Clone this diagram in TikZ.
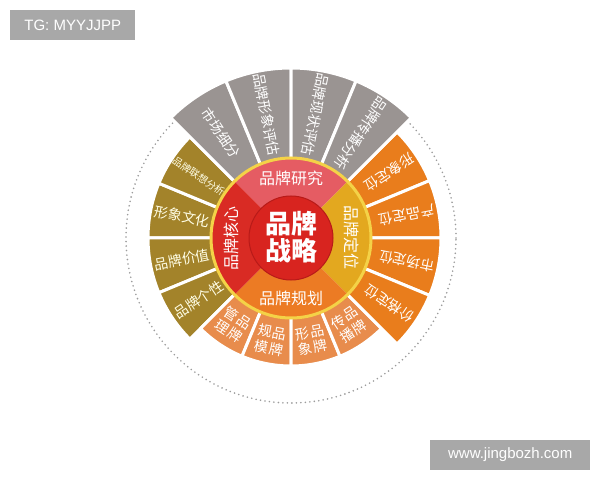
\documentclass[tikz,border=0pt]{standalone}
\usepackage{fontspec}
\setmainfont{Liberation Sans}
\newfontfamily\cjk{Noto Sans CJK SC}
\usetikzlibrary{positioning}
\definecolor{segGray}{HTML}{9A9492}
\definecolor{segOlive}{HTML}{A3832A}
\definecolor{segOrange}{HTML}{E97D1C}
\definecolor{segLight}{HTML}{E88C4C}
\definecolor{ringTop}{HTML}{E55C63}
\definecolor{ringRight}{HTML}{E3A81F}
\definecolor{ringBottom}{HTML}{EC7B24}
\definecolor{ringLeft}{HTML}{D92B24}
\definecolor{ringLine}{HTML}{F4D247}
\definecolor{coreRed}{HTML}{D8241F}
\definecolor{coreDark}{HTML}{B81A18}
\definecolor{wmGray}{HTML}{A8A8A8}
\definecolor{dotGray}{HTML}{9C9C9C}
\tikzset{
  seg/.style={draw=white,line width=3pt,line join=round},
  segtxt/.style={text=white,font=\cjk\fontsize{14}{15}\selectfont,inner sep=0pt},
  ringtxt/.style={text=white,font=\cjk\fontsize{16}{17}\selectfont,inner sep=0pt},
  wm/.style={fill=wmGray,text=white,font=\fontsize{15}{15}\selectfont,inner sep=0pt,minimum height=30pt}
}

\begin{document}
\begin{tikzpicture}[x=1pt,y=1pt]
	\useasboundingbox (0,0) rectangle (600,480);
	\coordinate (c) at (291,242);
	% dotted outer circle
	\draw[dotGray, line width=1.8pt, line cap=round, dash pattern=on 0pt off 4.5pt] (c) circle (165);
	\begin{scope}[shift={(c)}]
	% left group
	\foreach \m/\t [count=\i] in {168.75/形象文化,191.25/品牌价值,213.75/品牌个性}
	{
		\draw[seg,fill=segOlive] (\m-11.25:78) -- (\m-11.25:143) arc[start angle=\m-11.25,end angle=\m+11.25,radius=143] -- (\m+11.25:78) arc[start angle=\m+11.25,end angle=\m-11.25,radius=78] -- cycle;
		\node[segtxt,text=white!90!yellow,rotate=\m+180] (l\i) at (\m:111) {\t};
	}
	\draw[seg,fill=segOlive] (135:78) -- (135:143) arc[start angle=135,end angle=157.5,radius=143] -- (157.5:78) arc[start angle=157.5,end angle=135,radius=78] -- cycle;
	\node[segtxt,text=white!90!yellow,font=\cjk\fontsize{10}{11}\selectfont,rotate=146.25+180] (l0) at (146.25:111) {品牌联想分析};
	% bottom group
	\foreach \m/\a/\b [count=\i] in {-123.75/{管\\理}/{品\\牌},-101.25/{规\\模}/{品\\牌},-78.75/{形\\象}/{品\\牌},-56.25/{传\\播}/{品\\牌}}
	{
		\draw[seg,fill=segLight] (\m-11.25:78) -- (\m-11.25:128) arc[start angle=\m-11.25,end angle=\m+11.25,radius=128] -- (\m+11.25:78) arc[start angle=\m+11.25,end angle=\m-11.25,radius=78] -- cycle;
		\node[segtxt,rotate=\m+90] (b\i) at (\m:104) {\shortstack{\a}\hspace{1pt}\shortstack{\b}};
	}
	% right group
	\foreach \m/\t [count=\i] in {33.75/形象定位,11.25/产品定位,-11.25/市场定位,-33.75/价格定位}
	{
		\draw[seg,fill=segOrange] (\m-11.25:78) -- (\m-11.25:150) arc[start angle=\m-11.25,end angle=\m+11.25,radius=150] -- (\m+11.25:78) arc[start angle=\m+11.25,end angle=\m-11.25,radius=78] -- cycle;
		\node[segtxt,rotate=\m+180] (r\i) at (\m:118) {\t};
	}
	% top group
	\foreach \m/\t [count=\i] in {123.75/市场细分,101.25/品牌形象评估,78.75/品牌现状评估,56.25/品牌传播分析}
	{
		\draw[seg,fill=segGray] (\m-11.25:78) -- (\m-11.25:170) arc[start angle=\m-11.25,end angle=\m+11.25,radius=170] -- (\m+11.25:78) arc[start angle=\m+11.25,end angle=\m-11.25,radius=78] -- cycle;
		\node[segtxt,rotate=\m+180] (t\i) at (\m:126) {\t};
	}
	% middle ring
	\foreach \a/\col in {45/ringTop,-45/ringRight,-135/ringBottom,135/ringLeft}
		\fill[\col] (\a:42) -- (\a:80) arc[start angle=\a,end angle=\a+90,radius=80] -- (\a+90:42) arc[start angle=\a+90,end angle=\a,radius=42] -- cycle;
	\draw[ringLine, line width=3pt] (0,0) circle (80);
	\node[ringtxt] (yj) at (90:60) {品牌研究};
	\node[ringtxt,rotate=-90] (dw) at (0:61) {品牌定位};
	\node[ringtxt] (gh) at (-90:60) {品牌规划};
	\node[ringtxt,rotate=90] (hx) at (180:60) {品牌核心};
	% core
	\draw[fill=coreRed, draw=coreDark, line width=1pt] (0,0) circle (42);
	\node[text=white, align=center, inner sep=0pt, font=\cjk\bfseries\fontsize{26}{27}\selectfont] (core) at (0,1) {品牌\\战略};
	\end{scope}
	% watermarks
	\node[wm, minimum width=125pt, anchor=north west] (tg) at (10,470) {TG: MYYJJPP};
	\node[wm, minimum width=160pt, anchor=south west] (url) at (430,10) {www.jingbozh.com};
\end{tikzpicture}
\end{document}
